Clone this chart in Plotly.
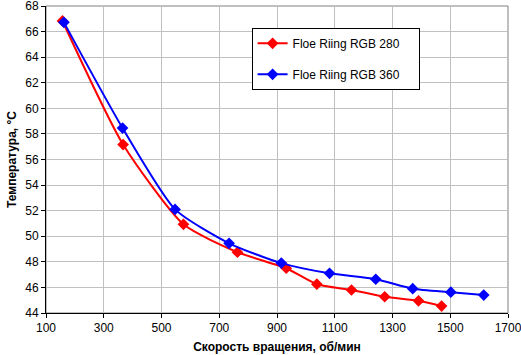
import plotly.graph_objects as go

x_280 = [157, 367, 576, 763, 932, 1038, 1158, 1273, 1390, 1470]
t_280 = [66.83, 57.17, 50.93, 48.75, 47.5, 46.25, 45.8, 45.27, 44.95, 44.54]
x_360 = [162, 365, 547, 734, 915, 1082, 1242, 1370, 1502, 1616]
t_360 = [66.72, 58.46, 52.1, 49.45, 47.9, 47.1, 46.64, 45.9, 45.63, 45.4]

name_280 = "Floe Riing RGB 280"
name_360 = "Floe Riing RGB 360"
x_title = "Скорость вращения, об/мин"
y_title = "Температура, °С"

pad = "\u00a0" * 4

fig = go.Figure()
fig.add_trace(go.Scatter(x=x_280, y=t_280, name=name_280 + pad, mode="lines+markers",
                         legendgroup="a",
                         line=dict(color="#ff0000", width=2, shape="spline", smoothing=0.6),
                         marker=dict(symbol="diamond", size=9, color="#ff0000")))
fig.add_trace(go.Scatter(x=x_360, y=t_360, name=name_360 + pad, mode="lines+markers",
                         legendgroup="b",
                         line=dict(color="#0000ff", width=2, shape="spline", smoothing=0.6),
                         marker=dict(symbol="diamond", size=9, color="#0000ff")))

font = "Liberation Sans, Arial, sans-serif"
fig.update_layout(
    width=521, height=355,
    margin=dict(l=46, r=13, t=6, b=42, autoexpand=False),
    paper_bgcolor="white", plot_bgcolor="white",
    font=dict(family=font, size=12, color="black"),
    showlegend=True,
    legend=dict(x=0.445, y=0.929, xanchor="left", yanchor="top",
                bgcolor="white", bordercolor="black", borderwidth=1,
                font=dict(size=12), tracegroupgap=12),
    xaxis=dict(range=[100, 1700], dtick=200, tick0=100, automargin=False,
               showgrid=True, gridcolor="#c0c0c0", gridwidth=1,
               showline=True, linecolor="black", linewidth=1, mirror=False,
               ticks="outside", ticklen=4, tickcolor="black",
               ticklabeloverflow="allow",
               title=dict(text="<b>" + x_title + "</b>", font=dict(size=12), standoff=8),
               zeroline=False),
    yaxis=dict(range=[44, 68], dtick=2, automargin=False,
               showgrid=True, gridcolor="#c0c0c0", gridwidth=1,
               showline=True, linecolor="black", linewidth=1,
               ticks="outside", ticklen=4, tickcolor="black",
               ticklabeloverflow="allow",
               title=dict(text="<b>" + y_title + "</b>", font=dict(size=12), standoff=6),
               zeroline=False),
    shapes=[dict(type="rect", xref="paper", yref="paper", x0=0, x1=1, y0=0, y1=1,
                 line=dict(color="#808080", width=1), layer="below")],
)
fig.write_html("out.html", config={"displayModeBar": False},
               post_script="document.body.style.margin='0';document.body.style.overflow='hidden';")
